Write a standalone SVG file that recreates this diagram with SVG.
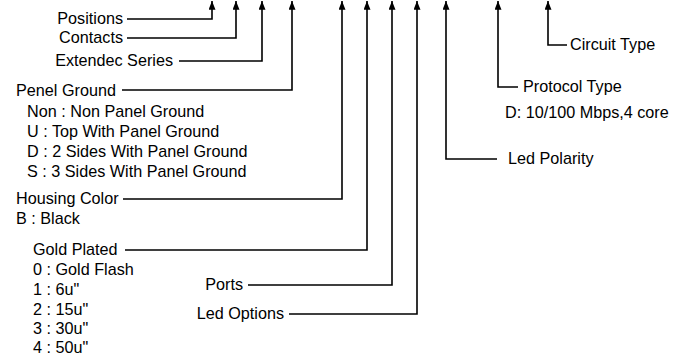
<svg xmlns="http://www.w3.org/2000/svg" width="675" height="357" viewBox="0 0 675 357">
<defs>
<marker id="ah" viewBox="0 0 10 8" refX="10" refY="4" markerWidth="10" markerHeight="7" markerUnits="userSpaceOnUse" orient="auto">
<path d="M0,0 L10,4 L0,8 z" fill="#000"/>
</marker>
<style>
.c{fill:none;stroke:#000;stroke-width:1.6;marker-end:url(#ah)}
text{font-family:"Liberation Sans",Arial,sans-serif;font-size:16.2px;fill:#000}
.e{text-anchor:end}
</style>
</defs>
<rect width="675" height="357" fill="#fff"/>
<g id="connectors">
<path class="c" d="M127,19 H212 V1"/>
<path class="c" d="M127,38 H236 V1"/>
<path class="c" d="M179,61 H262 V1"/>
<path class="c" d="M122,90 H292 V1"/>
<path class="c" d="M123,199 H342 V1"/>
<path class="c" d="M125,250 H367 V1"/>
<path class="c" d="M248,285 H392 V1"/>
<path class="c" d="M289,314 H417 V1"/>
<path class="c" d="M497,159 H446 V1"/>
<path class="c" d="M518,87 H498 V1"/>
<path class="c" d="M567,45 H548 V1"/>
</g>
<g id="positions"><text class="e" x="123" y="24">Positions</text></g>
<g id="contacts"><text class="e" x="123" y="43">Contacts</text></g>
<g id="extendec-series"><text class="e" x="173" y="66">Extendec Series</text></g>
<g id="panel-ground">
<text x="16" y="96">Penel Ground</text>
<text x="27" y="117">Non : Non Panel Ground</text>
<text x="27" y="137">U : Top With Panel Ground</text>
<text x="27" y="157">D : 2 Sides With Panel Ground</text>
<text x="27" y="177">S : 3 Sides With Panel Ground</text>
</g>
<g id="housing-color">
<text x="16" y="204">Housing Color</text>
<text x="16" y="224">B : Black</text>
</g>
<g id="gold-plated">
<text x="33" y="255">Gold Plated</text>
<text x="33" y="275">0 : Gold Flash</text>
<text x="33" y="295">1 : 6u"</text>
<text x="33" y="315">2 : 15u"</text>
<text x="33" y="334">3 : 30u"</text>
<text x="33" y="353">4 : 50u"</text>
</g>
<g id="ports"><text class="e" x="243" y="290">Ports</text></g>
<g id="led-options"><text class="e" x="284" y="319">Led Options</text></g>
<g id="led-polarity"><text x="508" y="164">Led Polarity</text></g>
<g id="protocol-type">
<text x="523" y="92">Protocol Type</text>
<text x="505" y="118">D: 10/100 Mbps,4 core</text>
</g>
<g id="circuit-type"><text x="570" y="50">Circuit Type</text></g>
</svg>
